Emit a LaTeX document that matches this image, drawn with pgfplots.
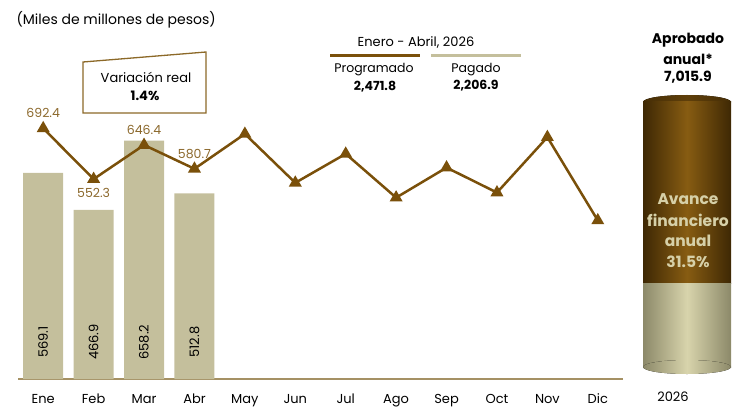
\documentclass[border=0pt]{standalone}
\usepackage{pgfplots}
\pgfplotsset{compat=1.18}
\usepackage{fontspec}
\setmainfont{Poppins}
\definecolor{linec}{RGB}{122,80,10}
\definecolor{barc}{RGB}{196,191,156}
\definecolor{axc}{RGB}{165,145,100}
\definecolor{lblc}{RGB}{140,105,45}
\definecolor{boxc}{RGB}{140,105,40}
\definecolor{cylbrD}{RGB}{62,40,4}
\definecolor{cylbrL}{RGB}{135,92,18}
\definecolor{cyltop}{RGB}{95,63,10}
\definecolor{cyltopD}{RGB}{70,46,6}
\definecolor{cylbeD}{RGB}{140,137,105}
\definecolor{cylbeL}{RGB}{216,212,172}
\definecolor{cyltxt}{RGB}{214,208,168}
\begin{document}
\begin{tikzpicture}[x=1pt,y=1pt]
\useasboundingbox (0,0) rectangle (735,416);
\begin{axis}[at={(18pt,37pt)}, anchor=south west, scale only axis,
  width=605pt, height=289.6pt, xmin=-0.5, xmax=11.5, ymin=0, ymax=800,
  clip=false, axis y line=none, axis x line=bottom,
  axis line style={-, draw=axc, line width=1.5pt},
  xtick={0,1,2,3,4,5,6,7,8,9,10,11},
  xticklabels={Ene,Feb,Mar,Abr,May,Jun,Jul,Ago,Sep,Oct,Nov,Dic},
  major tick length=0pt,
  xticklabel style={anchor=base, yshift=-24.5pt, font=\fontsize{13}{15}\selectfont}]
\addplot[ybar, bar width=40pt, fill=barc, draw=none] coordinates {(0,569.1) (1,466.9) (2,658.2) (3,512.8)};
\addplot[draw=none, mark=none, nodes near coords, point meta=explicit symbolic,
  every node near coord/.append style={rotate=90, anchor=center, text=black, font=\fontsize{13}{15}\selectfont}]
  table[meta=l] {
x y l
0 102 569.1
1 102 466.9
2 102 658.2
3 102 512.8
};
\addplot[color=linec, line width=2.5pt, mark=triangle*, mark size=5pt, mark options={solid}]
  coordinates {(0,692.4) (1,552.3) (2,646.4) (3,580.7) (4,677.0) (5,542.0) (6,622.0) (7,501.0) (8,584.0) (9,515.0) (10,668.0) (11,438.0)};
\addplot[draw=none, mark=none, nodes near coords, point meta=explicit symbolic,
  every node near coord/.append style={anchor=center, yshift=15pt, text=lblc, font=\fontsize{12.5}{14}\selectfont}]
  table[meta=l] {
x y l
0 692.4 692.4
2 646.4 646.4
3 580.7 580.7
};
\addplot[draw=none, mark=none, nodes near coords, point meta=explicit symbolic,
  every node near coord/.append style={anchor=center, yshift=-14pt, text=lblc, font=\fontsize{12.5}{14}\selectfont}]
  table[meta=l] {
x y l
1 552.3 552.3
};
\end{axis}
\begin{axis}[at={(643pt,49pt)}, anchor=south west, scale only axis,
  width=88pt, height=265pt, xmin=0, xmax=1, ymin=0, ymax=7015.9,
  hide axis, clip=false, ybar stacked, bar width=88pt]
\fill[left color=cylbeD, right color=cylbeD, middle color=cylbeL] (axis cs:0.5,0) ellipse [x radius=44pt, y radius=7pt];
\addplot[draw=none, left color=cylbeD, right color=cylbeD, middle color=cylbeL] coordinates {(0.5,2206.9)};
\addplot[draw=none, left color=cylbrD, right color=cylbrD, middle color=cylbrL] coordinates {(0.5,4809.0)};
\fill[left color=cyltopD, right color=cyltopD, middle color=cyltop] (axis cs:0.5,7015.9) ellipse [x radius=44pt, y radius=7pt];
\end{axis}
% header texts
\node[anchor=west, font=\fontsize{14}{16}\selectfont] at (13,396) {(Miles de millones de pesos)};
\node[font=\fontsize{13}{15}\selectfont] at (416,374) {Enero - Abril, 2026};
\draw[linec, line width=3pt] (330,360) -- (420,360);
\draw[barc, line width=3pt] (431,360) -- (521,360);
\node[font=\fontsize{12.5}{14}\selectfont] at (374,346) {Programado};
\node[font=\bfseries\fontsize{12.5}{14}\selectfont] at (375,329) {2,471.8};
\node[font=\fontsize{12.5}{14}\selectfont] at (476,346) {Pagado};
\node[font=\bfseries\fontsize{12.5}{14}\selectfont] at (476,330) {2,206.9};
\draw[boxc, line width=1.3pt] (83,354) -- (206,364) -- (206,303) -- (83,303) -- cycle;
\node[font=\fontsize{13}{15}\selectfont] at (146,339) {Variación real};
\node[font=\bfseries\fontsize{13}{15}\selectfont] at (145,320) {1.4\%};
\node[font=\bfseries\fontsize{14}{16}\selectfont] at (688,376) {Aprobado};
\node[font=\bfseries\fontsize{14}{16}\selectfont] at (688,357) {anual*};
\node[font=\bfseries\fontsize{14}{16}\selectfont] at (688,339) {7,015.9};
\node[font=\bfseries\fontsize{15.5}{17}\selectfont, text=cyltxt] at (688,217) {Avance};
\node[font=\bfseries\fontsize{15.5}{17}\selectfont, text=cyltxt] at (688,196) {financiero};
\node[font=\bfseries\fontsize{15.5}{17}\selectfont, text=cyltxt] at (688,175) {anual};
\node[font=\bfseries\fontsize{15.5}{17}\selectfont, text=cyltxt] at (688,154) {31.5\%};
\node[font=\fontsize{13}{15}\selectfont] at (673,19) {2026};
\end{tikzpicture}
\end{document}
